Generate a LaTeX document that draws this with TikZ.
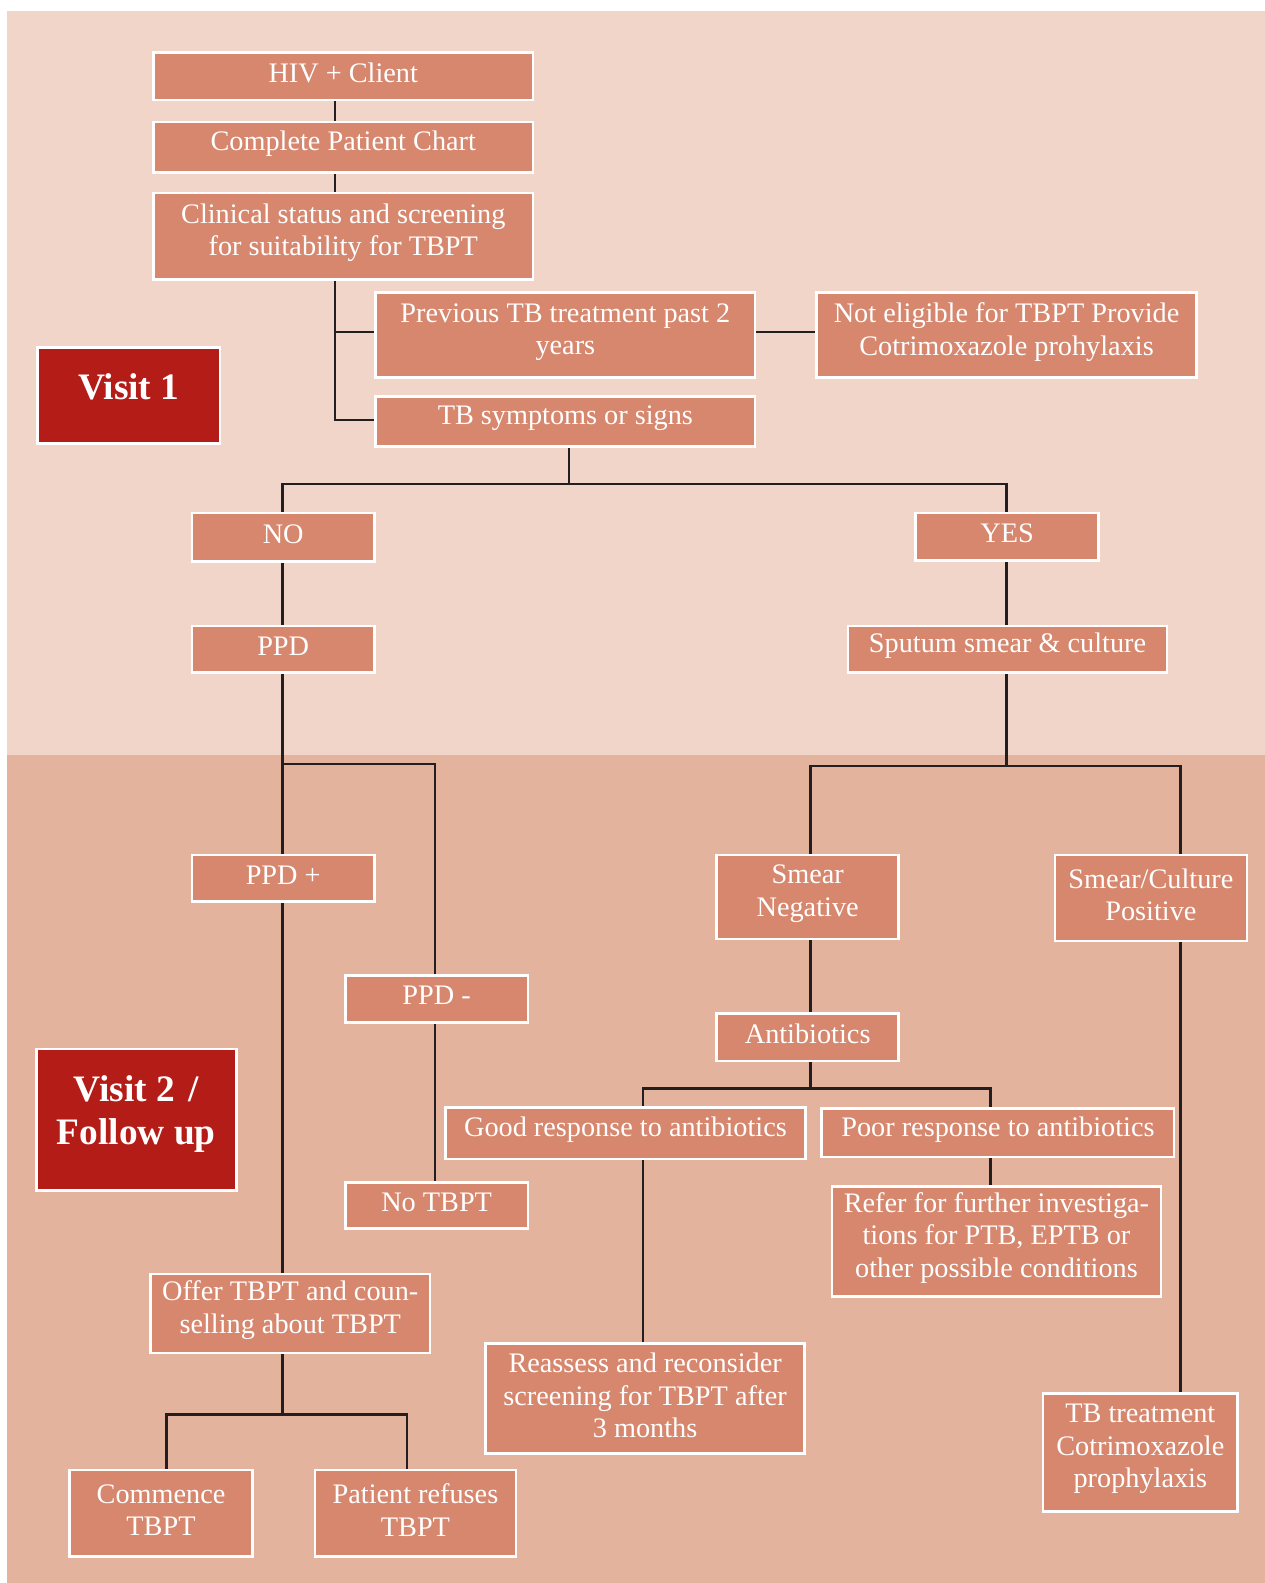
\documentclass[tikz,border=0pt]{standalone}
\usepackage{fontspec}
\setmainfont{Liberation Serif}
\definecolor{bgtop}{HTML}{F1D5C8}
\definecolor{bgbot}{HTML}{E4B39D}
\definecolor{boxc}{HTML}{D6876E}
\definecolor{visitc}{HTML}{B31C17}
\definecolor{linec}{HTML}{231F20}
\pgfdeclarelayer{bg}
\pgfsetlayers{bg,main}
\newcommand\flowbox[7][box]{%
  \pgfmathsetmacro\bw{(#4-#3)*0.5}%
  \pgfmathsetmacro\bh{(#6-#5)*0.5}%
  \node[#1, minimum width=\bw pt, minimum height=\bh pt,
        label={[txt, name=#2t]center:{#7}}] (#2) at ({(#3+#4)/2},{(#5+#6)/2}) {};}
\begin{document}
\begin{tikzpicture}[x=0.5pt, y=-0.5pt,
  conn/.style={draw=linec, line width=1.2pt},
  box/.style={draw=white, fill=boxc, line width=1.3pt, inner sep=0pt},
  txt/.style={text=white, font=\fontsize{14}{16}\selectfont, align=center, inner sep=0pt, yshift=1.6pt},
  vbox/.style={draw=white, fill=visitc, line width=1.3pt, inner sep=0pt},
  vtxt/.style={text=white, font=\fontsize{18.5}{21.5}\selectfont\bfseries, align=center, inner sep=0pt}]
\useasboundingbox (0,0) rectangle (1253,1568);

% boxes
\flowbox{hiv}{152}{528}{52}{99}{HIV + Client}
\flowbox{chart}{152}{528}{121}{171}{Complete Patient Chart}
\flowbox{clin}{152}{528}{191}{277}{Clinical status and screening\\for suitability for TBPT}
\flowbox{prev}{372}{748}{290}{374}{Previous TB treatment past 2\\years}
\flowbox{noel}{809}{1185}{290}{374}{Not eligible for TBPT Provide\\Cotrimoxazole prohylaxis}
\flowbox{sympt}{372}{748}{393}{442}{TB symptoms or signs}
\flowbox{no}{190}{371}{508}{556}{NO}
\flowbox{yes}{907}{1088}{508}{555}{YES}
\flowbox{ppd}{190}{371}{620}{666}{PPD}
\flowbox{sput}{840}{1156}{620}{666}{Sputum smear \& culture}
\flowbox{ppdp}{190}{371}{847}{893}{PPD +}
\flowbox{ppdm}{342}{523}{966}{1013}{PPD -}
\flowbox{sneg}{710}{890}{847}{930}{Smear\\Negative}
\flowbox{spos}{1045}{1235}{847}{932}{Smear/Culture\\Positive}
\flowbox{anti}{710}{890}{1004}{1051}{Antibiotics}
\flowbox{good}{441}{798}{1097}{1148}{Good response to antibiotics}
\flowbox{poor}{814}{1163}{1098}{1146}{Poor response to antibiotics}
\flowbox{notbpt}{342}{523}{1171}{1217}{No TBPT}
\flowbox{refer}{824}{1150}{1175}{1284}{Refer for further investiga-\\tions for PTB, EPTB or\\other possible conditions}
\flowbox{offer}{149}{426}{1262}{1340}{Offer TBPT and coun-\\selling about TBPT}
\flowbox{reass}{481}{797}{1331}{1440}{Reassess and reconsider\\screening for TBPT after\\3 months}
\flowbox{tbtr}{1033}{1226}{1380}{1497}{TB treatment\\Cotrimoxazole\\prophylaxis}
\flowbox{comm}{69}{250}{1456}{1542}{Commence\\TBPT}
\flowbox{refu}{312}{511}{1456}{1542}{Patient refuses\\TBPT}

% visit boxes
\node[vbox, minimum width=90.5pt, minimum height=47.5pt,
      label={[vtxt, name=v1t, yshift=4pt]center:Visit 1}] (v1) at (127.5,391.5) {};
\node[vbox, minimum width=99pt, minimum height=70pt,
      label={[vtxt, name=v2t, yshift=2.8pt]center:{Visit 2\hspace{0.35em}/\\Follow up}}] (v2) at (135,1109) {};

% connector coordinates
\coordinate (xA) at (332,0);
\coordinate (xB) at (563.5,0);
\coordinate (xC) at (280,0);
\coordinate (xD) at (997,0);
\coordinate (xE) at (431,0);
\coordinate (xF) at (803,0);
\coordinate (xG) at (1169.5,0);
\coordinate (xH) at (637,0);
\coordinate (xI) at (981,0);
\coordinate (xJ) at (165,0);
\coordinate (xK) at (403,0);
\coordinate (yP) at (0,329);
\coordinate (yS) at (0,416);
\coordinate (y1) at (0,479.5);
\coordinate (y2) at (0,757);
\coordinate (y3) at (0,759);
\coordinate (y4) at (0,1078);
\coordinate (y5) at (0,1401);

\begin{pgfonlayer}{bg}
\fill[bgtop] (7,11) rectangle (1253,748);
\fill[bgbot] (7,748) rectangle (1253,1568);

\draw[conn] (hiv.south -| xA) -- (chart.north -| xA);
\draw[conn] (chart.south -| xA) -- (clin.north -| xA);
\draw[conn] (clin.south -| xA) |- (sympt.west |- yS);
\draw[conn] (xA |- yP) -- (prev.west |- yP);
\draw[conn] (prev.east |- yP) -- (noel.west |- yP);
\draw[conn] (sympt.south -| xB) -- (xB |- y1);
\draw[conn] (no.north -| xC) -- (xC |- y1) -- (xD |- y1) -- (yes.north -| xD);
\draw[conn] (no.south -| xC) -- (ppd.north -| xC);
\draw[conn] (yes.south -| xD) -- (sput.north -| xD);
\draw[conn] (ppd.south -| xC) -- (ppdp.north -| xC);
\draw[conn] (xC |- y2) -- (xE |- y2) -- (ppdm.north -| xE);
\draw[conn] (ppdm.south -| xE) -- (notbpt.north -| xE);
\draw[conn] (ppdp.south -| xC) -- (offer.north -| xC);
\draw[conn] (offer.south -| xC) -- (xC |- y5);
\draw[conn] (comm.north -| xJ) -- (xJ |- y5) -- (xK |- y5) -- (refu.north -| xK);
\draw[conn] (sput.south -| xD) -- (xD |- y3);
\draw[conn] (sneg.north -| xF) -- (xF |- y3) -- (xG |- y3) -- (spos.north -| xG);
\draw[conn] (sneg.south -| xF) -- (anti.north -| xF);
\draw[conn] (anti.south -| xF) -- (xF |- y4);
\draw[conn] (good.north -| xH) -- (xH |- y4) -- (xI |- y4) -- (poor.north -| xI);
\draw[conn] (good.south -| xH) -- (reass.north -| xH);
\draw[conn] (poor.south -| xI) -- (refer.north -| xI);
\draw[conn] (spos.south -| xG) -- (tbtr.north -| xG);
\end{pgfonlayer}
\end{tikzpicture}
\end{document}
